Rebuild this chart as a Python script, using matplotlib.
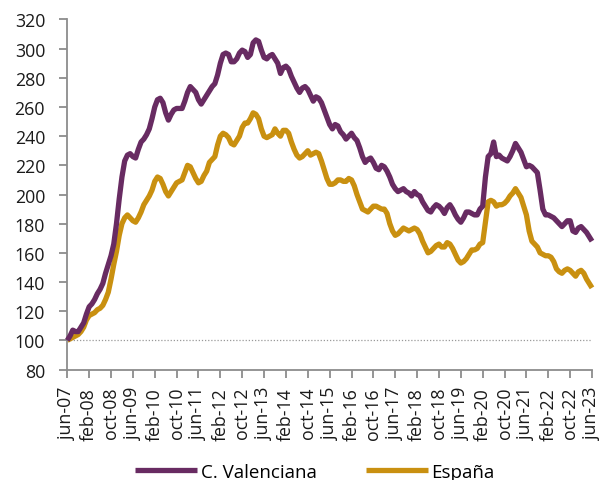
import matplotlib
matplotlib.use("Agg")
import matplotlib.pyplot as plt

valenciana = [
    100, 103, 107, 106, 106, 109, 112, 118, 123, 125,
    128, 132, 135, 139, 146, 152, 158, 166, 180, 197,
    212, 223, 227, 228, 226, 225, 231, 236, 238, 241,
    245, 252, 260, 265, 266, 263, 256, 251, 255, 258,
    259, 259, 259, 264, 270, 274, 272, 270, 265, 262,
    265, 268, 271, 274, 276, 282, 290, 296, 297, 296,
    291, 291, 293, 297, 299, 298, 294, 296, 304, 306,
    305, 299, 294, 293, 295, 296, 293, 290, 283, 287,
    288, 286, 281, 277, 273, 270, 273, 274, 272, 268,
    264, 267, 266, 263, 258, 253, 248, 245, 248, 247,
    243, 241, 238, 240, 242, 239, 237, 232, 226, 222,
    224, 225, 222, 218, 217, 220, 219, 216, 212, 207,
    204, 202, 203, 204, 202, 201, 199, 202, 200, 199,
    195, 192, 189, 188, 191, 193, 192, 190, 187, 191,
    193, 190, 186, 183, 181, 184, 188, 188, 187, 186,
    186, 190, 192, 212, 226, 228, 236, 226, 227, 225,
    224, 223, 226, 230, 235, 232, 229, 224, 219, 220,
    219, 217, 215, 203, 190, 186, 186, 185, 184, 182,
    180, 178, 180, 182, 182, 175, 174, 177, 178, 176,
    174, 171, 168,
]

espana = [
    100, 101, 102, 103, 104, 106, 109, 114, 117, 118,
    119, 121, 122, 124, 128, 133, 142, 152, 161, 172,
    180, 184, 186, 184, 182, 181, 184, 188, 193, 196,
    199, 203, 209, 212, 211, 207, 202, 199, 202, 205,
    208, 209, 210, 215, 220, 219, 215, 211, 208, 209,
    213, 216, 222, 224, 226, 234, 240, 242, 241, 239,
    235, 234, 237, 240, 246, 249, 249, 252, 256, 255,
    252, 245, 240, 239, 240, 241, 245, 242, 240, 244,
    244, 242, 236, 231, 227, 225, 226, 228, 230, 227,
    228, 229, 228, 223, 217, 211, 207, 207, 208, 210,
    210, 209, 209, 211, 210, 206, 200, 195, 190, 189,
    188, 190, 192, 192, 191, 190, 190, 187, 180, 175,
    172, 173, 175, 177, 176, 175, 176, 177, 176, 173,
    168, 164, 160, 161, 163, 165, 166, 164, 164, 167,
    166, 163, 159, 155, 153, 154, 156, 159, 162, 162,
    163, 166, 167, 181, 195, 196, 195, 192, 193, 193,
    194, 196, 199, 201, 204, 201, 198, 192, 186, 175,
    168, 166, 164, 160, 159, 158, 158, 157, 154, 149,
    147, 146, 148, 149, 148, 146, 144, 147, 148, 146,
    142, 139, 136,
]

tick_labels = ["jun-07", "feb-08", "oct-08", "jun-09", "feb-10", "oct-10",
               "jun-11", "feb-12", "oct-12", "jun-13", "feb-14", "oct-14",
               "jun-15", "feb-16", "oct-16", "jun-17", "feb-18", "oct-18",
               "jun-19", "feb-20", "oct-20", "jun-21", "feb-22", "oct-22",
               "jun-23"]
y_ticks = [80, 100, 120, 140, 160, 180, 200, 220, 240, 260, 280, 300, 320]
series_names = ["C. Valenciana", "España"]

plt.rcParams['font.family'] = ['Open Sans', 'DejaVu Sans']

fig = plt.figure(figsize=(6.09, 4.81), dpi=100)
ax = fig.add_axes([0.1105, 0.2297, 0.8616, 0.7277])

months = list(range(len(valenciana)))
purple = '#682B62'
gold = '#C99010'
grey = '#8C8C8C'

ax.axhline(100, color='#999999', lw=0.9, ls=(0, (1, 1.5)), zorder=1)
ax.plot(months, valenciana, color=purple, lw=3.8, solid_capstyle='butt',
        label=series_names[0], zorder=3, clip_on=False)
ax.plot(list(range(len(espana))), espana, color=gold, lw=3.8, solid_capstyle='butt',
        label=series_names[1], zorder=2, clip_on=False)

ax.set_xlim(0, 192)
ax.set_ylim(80, 320)
ax.set_yticks(y_ticks)
ax.set_xticks([i * 8 for i in range(len(tick_labels))])
ax.set_xticklabels(tick_labels, rotation=90, fontsize=12.8, color='#1a1a1a')
ax.tick_params(axis='y', labelsize=12.8, labelcolor='#1a1a1a', length=5.5,
               width=1.3, color=grey, pad=10.5)
ax.tick_params(axis='x', length=5.5, width=1.3, color=grey, pad=7)

for s in ['top', 'right']:
    ax.spines[s].set_visible(False)
for s in ['left', 'bottom']:
    ax.spines[s].set_color(grey)
    ax.spines[s].set_linewidth(1.3)

fig.legend(loc='center', bbox_to_anchor=(315 / 609, 1 - 473 / 481), ncol=2,
           frameon=False, fontsize=13.5, handlelength=3.3, handletextpad=0.2,
           columnspacing=2.6, borderaxespad=0)

fig.savefig('out.png', dpi=100)
